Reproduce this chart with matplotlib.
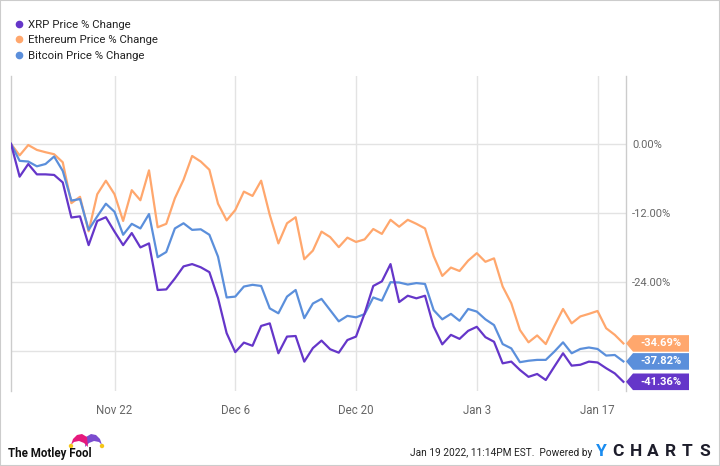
"""
XRP / Ethereum / Bitcoin price % change, YCharts style.
"""

import numpy as np
import pandas as pd
import matplotlib
matplotlib.use('Agg')
import matplotlib.pyplot as plt
import matplotlib.dates as mdates
from matplotlib.lines import Line2D
from matplotlib.patches import Polygon, Rectangle

plt.rcParams.update({'font.family': ['Roboto', 'DejaVu Sans']})

dates = pd.date_range('2021-11-10', periods=72, freq='D')
tick_dates = pd.date_range('2021-11-22', periods=5, freq='14D')

xrp = [0, -5.7, -3.5, -5.3, -5.3, -5.4, -6.7, -12.8, -12.6, -17.6,
       -13.4, -12.75, -15.25, -17.6, -15.5, -18.0, -17.3, -25.4, -25.3, -23.4,
       -21.3, -20.9, -21.45, -22.3, -26.8, -32.9, -36.2, -34.55, -35.1, -31.65,
       -31.2, -36.4, -33.5, -33.4, -37.85, -35.5, -34.2, -35.7, -36.3, -34.1,
       -33.5, -29.45, -24.7, -23.9, -20.9, -27.5, -26.4, -26.85, -26.4, -31.75,
       -34.85, -33.2, -33.9, -32.5, -31.8, -33.6, -34.4, -38.15, -37.85, -39.3,
       -40.5, -40.0, -41.05, -38.7, -36.4, -38.55, -38.4, -37.85, -38.0, -39.0,
       -39.9, -41.36]
eth = [0, -2.0, -0.2, -1.05, -1.45, -1.8, -3.2, -10.3, -9.2, -15.2,
       -8.75, -6.4, -8.75, -13.4, -8.05, -9.8, -4.6, -14.5, -13.9, -9.45,
       -6.25, -2.1, -3.07, -4.5, -10.4, -13.3, -11.5, -8.3, -9.05, -6.4,
       -12.35, -17.3, -13.8, -12.75, -20.05, -18.55, -15.25, -16.2, -17.95, -16.3,
       -17.05, -16.6, -14.8, -15.65, -13.2, -14.4, -13.2, -13.9, -14.7, -19.5,
       -22.95, -21.5, -22.1, -20.3, -19.0, -20.5, -19.9, -24.8, -27.7, -32.35,
       -34.5, -33.3, -34.8, -31.65, -28.7, -31.2, -30.0, -29.55, -29.05, -32.05,
       -33.2, -34.69]
btc = [0, -2.95, -3.07, -3.9, -3.5, -2.2, -4.7, -9.85, -9.6, -14.95,
       -12.6, -10.4, -11.8, -15.8, -13.9, -14.7, -12.2, -19.7, -18.8, -14.7,
       -13.8, -14.95, -14.85, -15.8, -19.6, -26.7, -26.55, -24.8, -24.5, -24.7,
       -28.6, -29.45, -26.55, -25.4, -30.3, -27.75, -26.95, -28.9, -30.85, -29.9,
       -30.15, -29.6, -26.7, -27.25, -24.05, -24.1, -24.45, -24.2, -24.35, -28.9,
       -30.5, -29.55, -30.75, -28.7, -29.15, -30.5, -31.5, -34.8, -35.55, -37.95,
       -37.7, -37.55, -37.55, -36.1, -34.5, -36.4, -35.65, -35.4, -35.65, -36.8,
       -36.7, -37.82]

names = ['XRP Price % Change', 'Ethereum Price % Change', 'Bitcoin Price % Change']
colors = ['#6536c9', '#ffa76d', '#5b8fdb']
series = [xrp, eth, btc]

yticks = [0, -12, -24, -36]

W, H = 720, 466
fig = plt.figure(figsize=(W / 100, H / 100), dpi=100)
ax = fig.add_axes([11 / W, 75 / H, 615 / W, 315 / H])

# orange under blue under purple, like the original
for idx in [1, 2, 0]:
    ax.plot(dates, series[idx], color=colors[idx], lw=1.6, zorder=3,
            solid_joinstyle='round')

ax.set_xlim(dates[0], dates[0] + pd.Timedelta(days=71.3))
ax.set_ylim(-42.96, 11.8)

ax.set_xticks(tick_dates)
ax.xaxis.set_major_formatter(mdates.DateFormatter('%b %-d'))
ax.set_yticks(yticks)
ax.set_yticklabels([f'{v:.2f}%' if v > -36 else '' for v in yticks])

ax.yaxis.tick_right()
ax.tick_params(axis='y', length=0, pad=4.5, labelsize=8, labelcolor='#666666')
ax.tick_params(axis='x', length=0, pad=9.5, labelsize=8.3, labelcolor='#666666')
ax.grid(True, color='#e3e3e3', lw=1)
ax.set_axisbelow(True)
for side in ['left', 'right']:
    ax.spines[side].set_color('#cccccc')
    ax.spines[side].set_linewidth(1)
ax.spines['top'].set_visible(False)
ax.spines['bottom'].set_visible(False)

# legend
handles = [Line2D([], [], marker='o', ls='', color=c, markersize=4.5) for c in colors]
fig.legend(handles, names, loc='upper left', bbox_to_anchor=(8 / W, 1 - 15 / H),
           frameon=False, fontsize=8.2, handletextpad=0.15, labelspacing=0.5,
           borderaxespad=0, labelcolor='#222222', handlelength=1.2)

# end-value tags
for idx in [1, 2, 0]:
    v = series[idx][-1]
    _, yc = ax.transData.transform((mdates.date2num(dates[-1]), v))
    h = 8.3
    pts = [(626, yc), (633, yc + h), (689, yc + h), (689, yc - h), (633, yc - h)]
    fig.patches.append(Polygon(pts, closed=True, transform=None,
                               facecolor=colors[idx], edgecolor='none', zorder=5))
    fig.text(661 / W, yc / H, f'{v:.2f}%', ha='center', va='center',
             color='white', fontsize=8, fontweight='bold', zorder=6)

# footer: Motley Fool mark
fig.text(8 / W, 1 - 453 / H, 'The Motley Fool', ha='left', va='center',
         fontsize=8.3, fontweight='bold', color='#111111')
purp = [(102, 445), (100, 439), (96, 435), (91, 434), (86, 437), (85, 447),
        (89, 443), (94, 441), (99, 442)]
pink = [(71, 445), (73, 439), (77, 435), (82, 434), (87, 437), (88, 447),
        (84, 443), (79, 441), (74, 442)]
for shape, c in [(purp, '#7b4ccf'), (pink, '#e6197d')]:
    fig.patches.append(Polygon([(x, H - y) for x, y in shape], closed=True,
                               transform=None, facecolor=c, edgecolor='none'))
for x, y in [(71, 446), (102, 446)]:
    fig.patches.append(plt.Circle((x, H - y), 1.5, transform=None, color='#f5c518'))

fig.text(592 / W, 1 - 453 / H, 'Jan 19 2022, 11:14PM EST.  Powered by', ha='right',
         va='center', fontsize=7.3, color='#222222')
for ch, xx in zip('YCHARTS', [596, 612, 630, 647, 665, 682, 699]):
    fig.text(xx / W, 1 - 452 / H, ch, ha='left', va='center', fontsize=12.5,
             fontweight='bold', color='#1a8cf0' if ch == 'Y' else '#1d1d2b')

fig.patches.append(Rectangle((0, 0), 1, 1, transform=fig.transFigure, fill=False,
                             edgecolor='#cccccc', lw=1.5))

fig.savefig('out.png', dpi=100)
